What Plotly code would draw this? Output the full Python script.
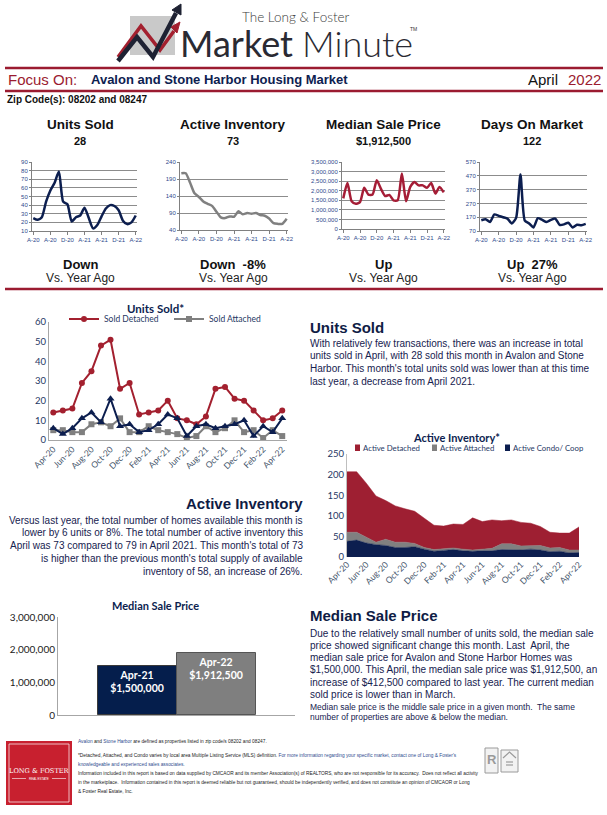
import plotly.graph_objects as go

W, H = 607, 815
def X(p): return p / W
def Y(p): return 1 - p / H

# ---------------- DATA ----------------
months = ["Apr-20","May-20","Jun-20","Jul-20","Aug-20","Sep-20","Oct-20","Nov-20","Dec-20",
          "Jan-21","Feb-21","Mar-21","Apr-21","May-21","Jun-21","Jul-21","Aug-21","Sep-21",
          "Oct-21","Nov-21","Dec-21","Jan-22","Feb-22","Mar-22","Apr-22"]
small_tick_labels = ["A-20","A-20","D-20","A-21","A-21","D-21","A-22"]

sold_detached = [14,15,16,29,35,48,51,26,29,13,14,15,20,11,10,8,12,26,27,21,20,15,10,11,15]
sold_attached = [5,5,4,4,8,9,7,11,4,4,7,5,4,3,1,2,7,4,6,10,4,5,1,5,2]
sold_condo    = [6,3,6,11,14,9,21,7,8,4,5,8,13,11,2,7,8,6,7,8,10,2,7,4,11]

inv_detached = [147,147,131,112,94,88,81,78,71,59,55,58,60,78,67,69,56,58,57,55,46,38,35,41,56]
inv_attached = [22,19,14,6,15,13,13,8,4,4,4,4,4,3,4,6,14,14,10,8,11,9,9,7,6]
inv_condo    = [38,41,34,30,28,23,23,25,19,14,16,18,15,14,15,15,18,18,17,19,17,13,14,10,11]

median_price = [1600000,2400000,1450000,1320000,1400000,2150000,1800000,1800000,2550000,
                2100000,1720000,1780000,1500000,1500000,2900000,1450000,2200000,2450000,
                2280000,2280000,2150000,2400000,1850000,2200000,1912500]
days_on_market = [148,155,135,190,180,170,160,125,165,480,145,125,96,163,150,135,150,160,
                  115,118,130,95,115,112,122]

bar_labels = ["Apr-21", "Apr-22"]
bar_values = [1500000, 1912500]

units_total = [a + b + c for a, b, c in zip(sold_detached, sold_attached, sold_condo)]
inv_total = [a + b + c for a, b, c in zip(inv_detached, inv_attached, inv_condo)]

# ---------------- STYLE ----------------
RED = "#9B1B30"
NAVY = "#0C1E4F"
GREY = "#808080"
TXT = "#16224F"
TICK = "#2E4A8C"
ARIAL = "Liberation Sans"
CAL = "Lato"
C_DET, C_ATT, C_CON = "#9E1F32", "#808080", "#0C1E4F"

fig = go.Figure()

# small charts
small = [
    dict(n=1, x0=32, x1=137, y0=162, y1=231, r=[10, 90], t0=10, dt=10, y=units_total, c=NAVY, fmt=None),
    dict(n=2, x0=180, x1=288, y0=162, y1=230, r=[40, 240], t0=40, dt=50, y=inv_total, c=GREY, fmt=None),
    dict(n=3, x0=342, x1=445, y0=162, y1=229, r=[0, 3500000], t0=0, dt=500000, y=median_price, c="#A51D36", fmt=","),
    dict(n=4, x0=480, x1=587, y0=162, y1=231, r=[70, 570], t0=70, dt=100, y=days_on_market, c=NAVY, fmt=None),
]
layout_axes = {}
for s in small:
    n = s["n"]
    fig.add_trace(go.Scatter(x=months, y=s["y"], mode="lines", line=dict(color=s["c"], width=2.5, shape="spline", smoothing=0.6),
                             xaxis=f"x{n}", yaxis=f"y{n}", showlegend=False, hoverinfo="skip"))
    layout_axes[f"xaxis{n}"] = dict(domain=[X(s["x0"]), X(s["x1"])], anchor=f"y{n}", type="category",
                                    range=[-0.3, 24.3], tickvals=months[::4], ticktext=small_tick_labels,
                                    tickfont=dict(size=6, color=TICK, family=ARIAL), showline=True, linecolor=GREY,
                                    ticks="outside", ticklen=3, tickcolor=GREY, showgrid=False, tickangle=0,
                                    automargin=False)
    ya = dict(domain=[Y(s["y1"]), Y(s["y0"])], anchor=f"x{n}", range=s["r"], tick0=s["t0"], dtick=s["dt"],
              showgrid=True, gridcolor="#8c8c8c", gridwidth=1, zeroline=False, showline=True, linecolor=GREY,
              ticks="outside", ticklen=2, tickcolor=GREY, tickfont=dict(size=6, color=TICK, family=ARIAL),
              automargin=False)
    if s["fmt"]:
        ya["tickformat"] = s["fmt"]
    layout_axes[f"yaxis{n}"] = ya

# Units Sold* chart (axes 5)
fig.add_trace(go.Scatter(x=months, y=sold_detached, name="Sold Detached", mode="lines+markers",
                         line=dict(color="#A3202F", width=2), marker=dict(symbol="circle", size=6, color="#A3202F"),
                         xaxis="x5", yaxis="y5", legend="legend"))
fig.add_trace(go.Scatter(x=months, y=sold_attached, name="Sold Attached", mode="lines+markers",
                         line=dict(color="#7F7F7F", width=2), marker=dict(symbol="square", size=6, color="#7F7F7F"),
                         xaxis="x5", yaxis="y5", legend="legend"))
fig.add_trace(go.Scatter(x=months, y=sold_condo, name="Sold Condo", mode="lines+markers",
                         line=dict(color=NAVY, width=2), marker=dict(symbol="triangle-up", size=7, color=NAVY),
                         xaxis="x5", yaxis="y5", showlegend=False))
layout_axes["xaxis5"] = dict(domain=[X(49), X(287)], anchor="y5", type="category", range=[-0.45, 24.5],
                             tickvals=months[::2], ticktext=months[::2], tickangle=-45,
                             tickfont=dict(size=8.5, color="#44546A", family=CAL), showline=True, linecolor="#A6A6A6",
                             ticks="", showgrid=False, automargin=False)
layout_axes["yaxis5"] = dict(domain=[Y(440), Y(322)], anchor="x5", range=[0, 60], dtick=10, showgrid=False,
                             zeroline=False, showline=True, linecolor="#A6A6A6", automargin=False,
                             tickfont=dict(size=9.5, color="#1F3864", family=CAL))

# Active Inventory* chart (axes 6) - stacked areas
inv_series = [("Active Condo/ Coop", inv_condo, C_CON), ("Active Attached", inv_attached, C_ATT),
              ("Active Detached", inv_detached, C_DET)]
for name, vals, col in inv_series:
    fig.add_trace(go.Scatter(x=months, y=vals, name=name, mode="lines", stackgroup="inv",
                             line=dict(color=col, width=0.5), fillcolor=col,
                             xaxis="x6", yaxis="y6", showlegend=False, hoverinfo="skip"))
layout_axes["xaxis6"] = dict(domain=[X(347), X(579)], anchor="y6", type="category", range=[0, 24],
                             tickvals=months[::2], ticktext=months[::2], tickangle=-45,
                             tickfont=dict(size=8.5, color="#44546A", family=CAL), showline=False,
                             ticks="", showgrid=False, automargin=False)
layout_axes["yaxis6"] = dict(domain=[Y(557), Y(454)], anchor="x6", range=[0, 250], dtick=50, showgrid=False,
                             zeroline=False, showline=True, linecolor="#BFBFBF", automargin=False,
                             tickfont=dict(size=9.5, color="#1F3864", family=CAL))

# Median Sale Price bar chart (axes 7)
fig.add_trace(go.Bar(x=[1, 2], y=bar_values, width=1, customdata=bar_labels,
                     marker=dict(color=["#051E4C", "#7F7F7F"], line=dict(color=["#3A3A3A", "#555555"], width=1)),
                     texttemplate="<b>%{customdata}<br>$%{y:,.0f}</b>", textposition="inside", textangle=0,
                     insidetextanchor="end", textfont=dict(color="white", size=10.5, family=CAL),
                     constraintext="none", xaxis="x7", yaxis="y7", showlegend=False, hoverinfo="skip"))
layout_axes["xaxis7"] = dict(domain=[X(58), X(295)], anchor="y7", range=[0, 3], showticklabels=False,
                             showline=True, linecolor="#A6A6A6", showgrid=False, zeroline=False, automargin=False)
layout_axes["yaxis7"] = dict(domain=[Y(715), Y(617)], anchor="x7", range=[0, 3000000], dtick=1000000,
                             tickformat=",", showgrid=False, zeroline=False, showline=True, linecolor="#A6A6A6",
                             automargin=False, tickfont=dict(size=10, color="#222222", family=CAL))

# ---------------- ANNOTATIONS ----------------
ann = []
def txt(x, y, text, size, color, family=ARIAL, xanchor="left", weight=None, yanchor="middle"):
    f = dict(size=size, color=color, family=family)
    if weight is not None:
        f["weight"] = weight
    ann.append(dict(x=X(x), y=Y(y), xref="paper", yref="paper", text=text, showarrow=False,
                    xanchor=xanchor, yanchor=yanchor, font=f, borderpad=0))

# header
txt(296, 17, "The Long &amp; Foster", 13.5, "#3A3A3A", family=CAL, xanchor="center", weight=300)
txt(294, 43, "Market", 36, "#2A2A33", family=CAL, xanchor="right", weight=400)
txt(301, 43, "Minute", 36, "#2A2A33", family=CAL, xanchor="left", weight=300)
txt(409, 29, "TM", 5, "#333333", family=ARIAL)
txt(7, 79, "Focus On:", 15, RED)
txt(90, 79, "<b>Avalon and Stone Harbor Housing Market</b>", 13, "#0D2150")
txt(527, 79, "April", 15, "#111111")
txt(567, 79, "2022", 15, RED)
txt(6, 100, "<b>Zip Code(s): 08202 and 08247</b>", 10, "#111111")

# small chart headers
titles = ["Units Sold", "Active Inventory", "Median Sale Price", "Days On Market"]
values = ["28", "73", "$1,912,500", "122"]
dirs = ["Down", "Down\u00a0\u00a0-8%", "Up", "Up\u00a0\u00a027%"]
centers = [80, 233, 383, 532]
for t, v, d, c in zip(titles, values, dirs, centers):
    txt(c, 124, f"<b>{t}</b>", 13.5, "#111111", xanchor="center")
    txt(c, 141, f"<b>{v}</b>", 11, "#111111", xanchor="center")
    txt(c, 264, f"<b>{d}</b>", 13, "#111111", xanchor="center")
    txt(c, 278, "Vs. Year Ago", 12, "#222222", xanchor="center")

# chart titles
txt(155, 308, "<b>Units Sold*</b>", 11.5, NAVY, family=CAL, xanchor="center")
txt(456, 437, "<b>Active Inventory*</b>", 11, NAVY, family=CAL, xanchor="center")
txt(155, 605, "<b>Median Sale Price</b>", 11, NAVY, family=CAL, xanchor="center")

# Active Inventory legend labels (positions of the legend row)
inv_legend_x = [355, 432, 505]
for (name, vals, col), lx in zip(reversed(inv_series), inv_legend_x):
    txt(lx + 7, 448, name, 7.8, "#1F3864", family=CAL)

# text blocks
txt(309, 327, "<b>Units Sold</b>", 15, "#0F1C45")
us_lines = ["With relatively few transactions, there was an increase in total",
            "units sold in April, with 28 sold this month in Avalon and Stone",
            "Harbor. This month's total units sold was lower than at this time",
            "last year, a decrease from April 2021."]
for i, l in enumerate(us_lines):
    txt(309, 343 + i * 12.7, l, 10, TXT)

txt(304, 503, "<b>Active Inventory</b>", 15, "#0F1C45", xanchor="right")
ai_lines = ["Versus last year, the total number of homes available this month is",
            "lower by 6 units or 8%. The total number of active inventory this",
            "April was 73 compared to 79 in April 2021. This month's total of 73",
            "is higher than the previous month's total supply of available",
            "inventory of 58, an increase of 26%."]
for i, l in enumerate(ai_lines):
    txt(304, 520 + i * 12.9, l, 10, TXT, xanchor="right")

txt(309, 615, "<b>Median Sale Price</b>", 15, "#0F1C45")
mp_lines = ["Due to the relatively small number of units sold, the median sale",
            "price showed significant change this month. Last  April, the",
            "median sale price for Avalon and Stone Harbor Homes was",
            "$1,500,000. This April, the median sale price was $1,912,500, an",
            "increase of $412,500 compared to last year. The current median",
            "sold price is lower than in March."]
for i, l in enumerate(mp_lines):
    txt(309, 633 + i * 12.3, l, 10, TXT)
txt(309, 707, "Median sale price is the middle sale price in a given month.  The same", 8.5, TXT)
txt(309, 717, "number of properties are above &amp; below the median.", 8.5, TXT)

# footer
foot = [
    (741, "<span style='color:#2F4C8F'>Avalon</span> and <span style='color:#2F4C8F'>Stone Harbor</span> are defined as properties listed in zip code/s 08202 and 08247."),
    (755, "*Detached, Attached, and Condo varies by local area Multiple Listing Service (MLS) definition. <span style='color:#2F4C8F'>For more information regarding your specific market, contact one of Long &amp; Foster's</span>"),
    (764, "<span style='color:#2F4C8F'>knowledgeable and experienced sales associates.</span>"),
    (773, "Information included in this report is based on data supplied by CMCAOR and its member Association(s) of REALTORS, who are not responsible for its accuracy.  Does not reflect all activity"),
    (782, "in the marketplace.  Information contained in this report is deemed reliable but not guaranteed, should be independently verified, and does not constitute an opinion of CMCAOR or Long"),
    (791, "&amp; Foster Real Estate, Inc."),
]
for yy, l in foot:
    txt(77, yy, l, 4.8, "#222222")
txt(39, 771, "LONG &amp; FOSTER", 6.6, "white", family="DejaVu Serif", xanchor="center")
txt(39, 778.5, "REAL ESTATE", 3, "white", family=ARIAL, xanchor="center")
txt(491.5, 759, "<b>R</b>", 13, "#9a9a9a", xanchor="center")

# ---------------- SHAPES ----------------
shapes = []
def pline(x0, y0, x1, y1, color, width):
    shapes.append(dict(type="line", xref="paper", yref="paper", x0=X(x0), y0=Y(y0), x1=X(x1), y1=Y(y1),
                       line=dict(color=color, width=width)))
def prect(x0, y0, x1, y1, fill, lc=None, lw=0, layer="below"):
    shapes.append(dict(type="rect", xref="paper", yref="paper", x0=X(x0), y0=Y(y1), x1=X(x1), y1=Y(y0),
                       fillcolor=fill, line=dict(color=lc or fill, width=lw), layer=layer))
def ppath(pts, color, width, fill=None, closed=False):
    d = "M " + " L ".join(f"{X(a):.5f},{Y(b):.5f}" for a, b in pts)
    if closed:
        d += " Z"
    s = dict(type="path", xref="paper", yref="paper", path=d, line=dict(color=color, width=width))
    if fill:
        s["fillcolor"] = fill
    shapes.append(s)

pline(5, 68, 603, 68, RED, 2.5)
pline(5, 91, 603, 91, RED, 2.5)
pline(5, 289, 603, 289, RED, 2.5)

# logo
prect(130, 16, 175, 55, "#C9C9C9")
ppath([(118, 57), (141, 26), (160, 50), (174, 31)], "#A3202F", 3.5)
ppath([(180, 22), (171, 27), (177, 33)], "#A3202F", 1, fill="#A3202F", closed=True)
ppath([(118, 61), (137, 37), (153, 57), (176, 13)], "#1E2233", 4.5)
ppath([(181, 4), (172, 10), (181, 15)], "#1E2233", 1, fill="#1E2233", closed=True)

# Active Inventory legend swatches
for (name, vals, col), lx in zip(reversed(inv_series), inv_legend_x):
    prect(lx, 444.5, lx + 5, 451, col, layer="above")

# footer logo box
prect(6, 741, 72, 805, "#C8202F")
prect(9, 744, 69, 802, "rgba(0,0,0,0)", lc="white", lw=0.7)
pline(12, 778.5, 26, 778.5, "white", 0.6)
pline(52, 778.5, 66, 778.5, "white", 0.6)
prect(485, 748, 498, 773, "#F2F2F2", lc="#9a9a9a", lw=1)
prect(501, 750, 518, 772, "#F2F2F2", lc="#9a9a9a", lw=1)
ppath([(503, 758), (509.5, 752), (516, 758)], "#9a9a9a", 1.2)
pline(506, 762, 513, 762, "#9a9a9a", 1.2)
pline(506, 765, 513, 765, "#9a9a9a", 1.2)

fig.update_layout(
    width=W, height=H, margin=dict(l=0, r=0, t=0, b=0, autoexpand=False),
    paper_bgcolor="white", plot_bgcolor="white",
    annotations=ann, shapes=shapes, bargap=0,
    legend=dict(orientation="h", x=X(64), y=Y(319), xanchor="left", yanchor="middle", traceorder="normal",
                font=dict(size=8.5, color="#1F3864", family=CAL), bgcolor="rgba(0,0,0,0)",
                entrywidth=60, itemwidth=30, tracegroupgap=0),
    **layout_axes,
)

fig.write_html("out.html", config={"displayModeBar": False},
               post_script="document.body.style.margin='0';document.body.style.overflow='hidden';")
